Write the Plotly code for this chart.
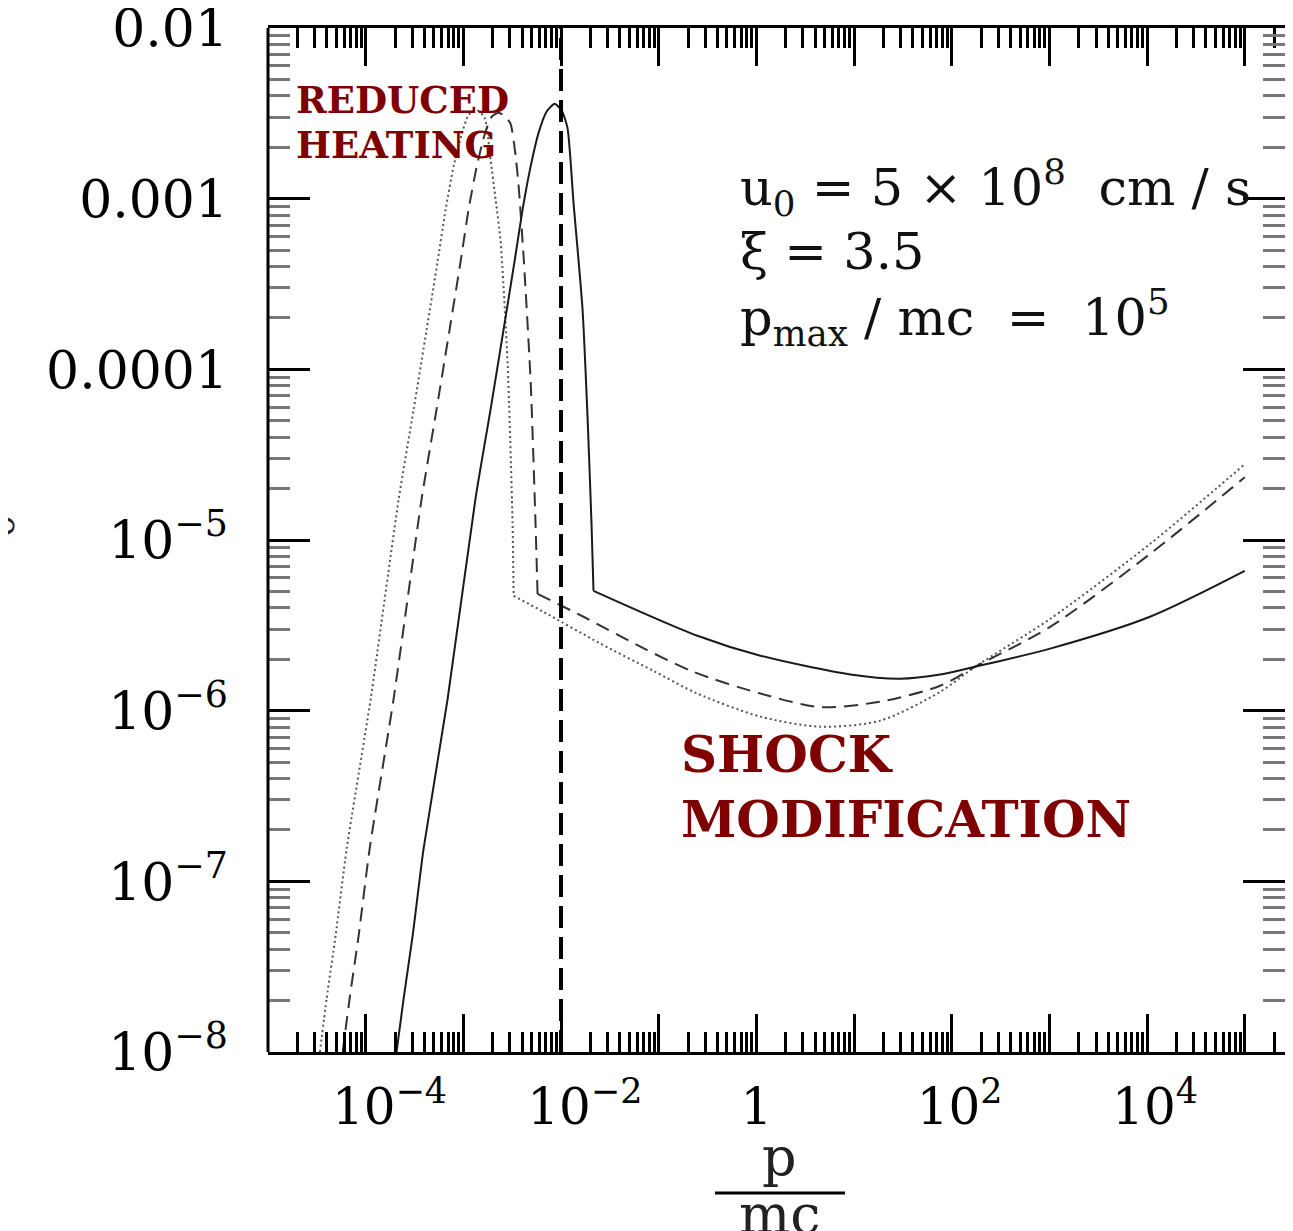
import plotly.graph_objects as go

# momentum p/mc and distribution values
p_solid = [2.07e-4, 2.45e-4, 3.03e-4, 3.92e-4, 6.9e-4, 1.33e-3, 1.90e-3, 2.58e-3, 3.34e-3,
           4.04e-3, 4.88e-3, 5.89e-3, 7.11e-3, 8.59e-3, 1.01e-2, 1.164e-2, 1.342e-2,
           1.66e-2, 1.867e-2, 2.05e-2, 2.15e-2, 0.249, 1.10, 9.16, 29.7, 76.2, 174,
           1018, 1.07e4, 1.0e5]
f_solid = [1.0e-8, 2.07e-8, 4.83e-8, 1.56e-7, 1.17e-6, 1.74e-5, 5.83e-5, 1.71e-4, 4.28e-4,
           8.63e-4, 1.54e-3, 2.43e-3, 3.23e-3, 3.60e-3, 3.31e-3, 2.60e-3, 9.48e-4,
           2.25e-4, 5.31e-5, 1.26e-5, 5.04e-6, 2.75e-6, 2.10e-6, 1.63e-6, 1.54e-6, 1.63e-6, 1.81e-6,
           2.31e-6, 3.55e-6, 6.59e-6]
brk_solid = 20   # index where the thermal peak drops onto the power law

p_dashed = [5.82e-5, 6.86e-5, 8.48e-5, 1.10e-4, 1.93e-4, 3.74e-4, 5.32e-4, 7.23e-4, 9.37e-4,
            1.13e-3, 1.37e-3, 1.65e-3, 1.95e-3, 2.30e-3, 2.70e-3, 3.04e-3, 3.43e-3, 3.67e-3,
            4.13e-3, 4.88e-3, 5.48e-3, 5.75e-3, 1.70e-2, 6.50e-2, 0.226, 1.10, 4.52, 18.6,
            76.2, 174, 1018, 1.07e4, 1.0e5]
f_dashed = [1.0e-8, 2.07e-8, 4.83e-8, 1.56e-7, 1.17e-6, 1.74e-5, 5.83e-5, 1.71e-4, 4.28e-4,
            8.63e-4, 1.54e-3, 2.37e-3, 3.02e-3, 3.19e-3, 3.02e-3, 2.75e-3, 1.78e-3, 1.21e-3,
            4.65e-4, 8.63e-5, 1.26e-5, 4.83e-6, 3.55e-6, 2.37e-6, 1.69e-6, 1.26e-6, 1.05e-6, 1.13e-6,
            1.40e-6, 1.81e-6, 3.10e-6, 8.28e-6, 2.33e-5]
brk_dashed = 21

p_dotted = [3.40e-5, 3.99e-5, 4.93e-5, 6.40e-5, 1.125e-4, 2.18e-4, 3.10e-4, 4.21e-4, 5.45e-4,
            6.58e-4, 7.94e-4, 9.59e-4, 1.13e-3, 1.37e-3, 1.65e-3, 1.90e-3, 2.14e-3, 2.40e-3,
            2.84e-3, 3.19e-3, 3.27e-3, 6.62e-3, 2.54e-2, 8.83e-2, 0.249, 1.10, 4.52, 18.6,
            76.2, 174, 1018, 1.07e4, 1.0e5]
f_dotted = [1.0e-8, 2.07e-8, 4.83e-8, 1.56e-7, 1.17e-6, 1.74e-5, 5.83e-5, 1.71e-4, 4.28e-4,
            8.63e-4, 1.54e-3, 2.37e-3, 3.09e-3, 3.31e-3, 2.98e-3, 1.69e-3, 9.86e-4, 5.75e-4,
            1.08e-4, 1.26e-5, 4.71e-6, 3.79e-6, 2.47e-6, 1.71e-6, 1.26e-6, 9.23e-7, 8.06e-7, 8.74e-7,
            1.29e-6, 1.81e-6, 3.45e-6, 9.48e-6, 2.78e-5]
brk_dotted = 20

p_inj = 1e-2

x_tickvals = [1e-5, 1e-4, 1e-3, 1e-2, 1e-1, 1, 10, 100, 1e3, 1e4, 1e5]
x_ticktext = ["", "\u00a0\u00a0\u00a010<sup>\u22124</sup>", "", "\u00a0\u00a0\u00a010<sup>\u22122</sup>", "",
              "1", "", "\u00a010<sup>2</sup>", "", "\u00a010<sup>4</sup>", ""]
y_tickvals = [1e-8, 1e-7, 1e-6, 1e-5, 1e-4, 1e-3, 1e-2]
y_ticktext = ["10<sup>\u22128</sup>", "10<sup>\u22127</sup>", "10<sup>\u22126</sup>",
              "10<sup>\u22125</sup>", "0.0001", "0.001", "0.01"]

minor_x = [k * 10.0 ** d for d in range(-6, 6) for k in range(2, 10)]
minor_y = [k * 10.0 ** d for d in range(-9, -2) for k in range(2, 10)]

fig = go.Figure()
curves = [
    (p_dotted, f_dotted, brk_dotted, dict(color="#555555", width=2, dash="2px,3px")),
    (p_dashed, f_dashed, brk_dashed, dict(color="#333333", width=2, dash="14px,8px")),
    (p_solid, f_solid, brk_solid, dict(color="#1a1a1a", width=2)),
]
for p, f, b, ln in curves:
    # thermal bump and power-law tail drawn as two smooth pieces meeting at the kink
    fig.add_trace(go.Scatter(x=p[:b + 1], y=f[:b + 1], mode="lines",
                             line=dict(shape="spline", smoothing=0.6, **ln)))
    fig.add_trace(go.Scatter(x=p[b:], y=f[b:], mode="lines",
                             line=dict(shape="spline", smoothing=0.8, **ln)))
fig.add_trace(go.Scatter(x=[p_inj, p_inj], y=[1e-8, 1e-2], mode="lines",
                         line=dict(color="black", width=4, dash="22px,9px")))

serif = "DejaVu Serif"
fig.update_xaxes(type="log", range=[-5, 5.412], tickvals=x_tickvals, ticktext=x_ticktext,
                 ticks="inside", ticklen=38, tickwidth=3, tickcolor="black",
                 showline=True, linewidth=3, linecolor="black", mirror="ticks",
                 showgrid=False, zeroline=False, ticklabelstandoff=9, automargin=False,
                 tickfont=dict(family=serif, size=50, color="black"),
                 minor=dict(tickvals=minor_x, ticks="inside", ticklen=20, tickwidth=3,
                            tickcolor="black", showgrid=False))
fig.update_yaxes(type="log", range=[-8, -2], tickvals=y_tickvals, ticktext=y_ticktext,
                 ticks="inside", ticklen=42, tickwidth=3, tickcolor="black",
                 showline=False, mirror="ticks", ticklabeloverflow="allow",
                 showgrid=False, zeroline=False, ticklabelstandoff=39, automargin=False,
                 tickfont=dict(family=serif, size=52, color="black"),
                 minor=dict(tickvals=minor_y, ticks="inside", ticklen=22, tickwidth=3,
                            tickcolor="#777777", showgrid=False))
# left frame edge (the right one lies past the picture edge)
fig.add_shape(type="line", xref="paper", yref="paper", x0=0, x1=0, y0=0, y1=1,
              line=dict(color="black", width=3))

red = "#7f0000"
notes = [
    ("<b>REDUCED</b>", 0.0256, 0.9297, 37),
    ("<b>HEATING</b>", 0.0256, 0.8857, 37),
    ("<b>SHOCK</b>", 0.404, 0.2910, 50),
    ("<b>MODIFICATION</b>", 0.404, 0.2275, 50),
]
for txt, x, y, s in notes:
    fig.add_annotation(text=txt, x=x, y=y, xref="paper", yref="paper", xanchor="left",
                       yanchor="middle", showarrow=False, font=dict(family=serif, size=s, color=red))

params = [
    ("u<sub>0</sub> = 5 \u00d7 10<sup>8</sup>  cm / s", 0.4624, 0.8447),
    ("\u03be = 3.5", 0.4624, 0.7813),
    ("p<sub>max</sub> / mc  =  10<sup>5</sup>", 0.4624, 0.7168),
]
for txt, x, y in params:
    fig.add_annotation(text=txt, x=x, y=y, xref="paper", yref="paper", xanchor="left",
                       yanchor="middle", showarrow=False,
                       font=dict(family=serif, size=51, color="#111111"))

# axis titles
fig.add_annotation(text="p", x=0.5034, y=-0.1362, xref="paper", yref="paper",
                   showarrow=False, font=dict(family=serif, size=54, color="#222222"))
fig.add_annotation(text="mc", x=0.5034, y=-0.1914, xref="paper", yref="paper",
                   showarrow=False, font=dict(family=serif, size=54, color="#222222"))
fig.add_shape(type="line", xref="paper", yref="paper", x0=0.4395, x1=0.5674,
              y0=-0.1377, y1=-0.1377, line=dict(color="black", width=3))
fig.add_annotation(text="f<sub>0</sub>", x=0, y=0.504, xref="paper", yref="paper",
                   xshift=-317, textangle=-90, showarrow=False,
                   font=dict(family=serif, size=54, color="#222222"))

fig.update_layout(width=1277, height=1223, showlegend=False,
                  margin=dict(l=260, r=0, t=20, b=179),
                  plot_bgcolor="white", paper_bgcolor="white")

fig.write_html("out.html")
